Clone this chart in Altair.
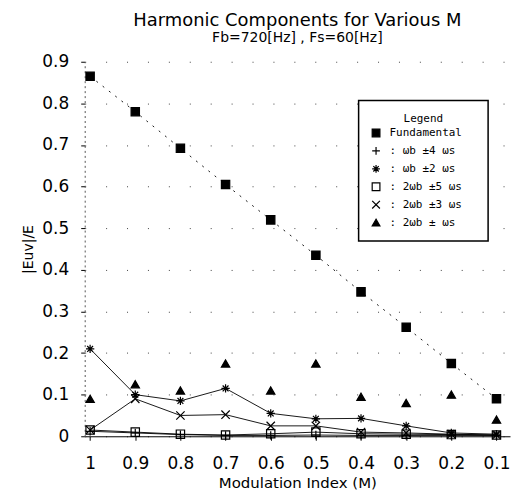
import altair as alt
import pandas as pd

m_values = [1.0, 0.9, 0.8, 0.7, 0.6, 0.5, 0.4, 0.3, 0.2, 0.1]

series_names = ["Fundamental", ":  ωb  ±4  ωs", ":  ωb  ±2  ωs", ": 2ωb  ±5  ωs", ": 2ωb  ±3  ωs", ": 2ωb  ±   ωs"]

fundamental = [0.865, 0.78, 0.692, 0.605, 0.52, 0.435, 0.347, 0.262, 0.175, 0.09]
wb_4ws = [0.012, 0.008, 0.004, 0.002, 0.002, 0.003, 0.002, 0.002, 0.002, 0.002]
wb_2ws = [0.21, 0.10, 0.085, 0.115, 0.055, 0.042, 0.043, 0.025, 0.008, 0.005]
w2b_5ws = [0.015, 0.010, 0.005, 0.003, 0.006, 0.010, 0.006, 0.005, 0.004, 0.003]
w2b_3ws = [0.015, 0.090, 0.050, 0.052, 0.025, 0.025, 0.010, 0.008, 0.005, 0.003]
w2b_ws = [0.090, 0.125, 0.110, 0.175, 0.110, 0.175, 0.095, 0.080, 0.100, 0.040]

all_series = [fundamental, wb_4ws, wb_2ws, w2b_5ws, w2b_3ws, w2b_ws]
line_style = ["dotted", "solid", "solid", "solid", "solid", "none"]

rows = []
for name, vals, ls in zip(series_names, all_series, line_style):
    for m, v in zip(m_values, vals):
        rows.append({"M": m, "value": v, "series": name, "ls": ls})
df = pd.DataFrame(rows)

shape_range = [
    "square",
    "M-1,0L1,0M0,-1L0,1",
    "M-1,0L1,0M0,-1L0,1M-0.7,-0.7L0.7,0.7M-0.7,0.7L0.7,-0.7",
    "square",
    "M-1,-1L1,1M-1,1L1,-1",
    "triangle-up",
]
fill_range = ["black", "transparent", "transparent", "transparent", "transparent", "black"]
stroke_range = ["black", "black", "black", "black", "black", "black"]

xscale = alt.Scale(domain=[1.012, 0.07], nice=False, zero=False)
yscale = alt.Scale(domain=[0, 0.9], nice=False)

xenc = alt.X("M:Q", scale=xscale, title="Modulation Index (M)",
             axis=alt.Axis(values=m_values, format="~g", grid=False, tickSize=4,
                           labelFontSize=17, titleFontSize=15, labelPadding=15,
                           titlePadding=4, domainColor="black", tickColor="black",
                           labelColor="black", titleColor="black",
                           labelFont="DejaVu Sans", titleFont="DejaVu Sans",
                           titleFontWeight="normal"))
yenc = alt.Y("value:Q", scale=yscale, title="|Euv|/E",
             axis=alt.Axis(values=[0, 0.1, 0.2, 0.3, 0.4, 0.5, 0.6, 0.7, 0.8, 0.9],
                           format="~g", grid=True, gridDash=[1, 20], gridColor="#444",
                           tickSize=4, labelFontSize=17, titleFontSize=14,
                           labelPadding=12, titlePadding=6, domainDash=[2, 3],
                           domainColor="#555", tickColor="black", labelColor="black",
                           titleColor="black", labelFont="DejaVu Sans",
                           titleFont="DejaVu Sans", titleFontWeight="normal"))

dotted_line = alt.Chart(df).transform_filter("datum.ls == 'dotted'").mark_line(
    color="black", strokeWidth=0.9, strokeDash=[2, 6]
).encode(x=xenc, y=yenc, detail="series:N")

solid_lines = alt.Chart(df).transform_filter("datum.ls == 'solid'").mark_line(
    color="black", strokeWidth=0.9
).encode(x=xenc, y=yenc, detail="series:N")

leg = alt.Legend(title="Legend", orient="none", legendX=275, legendY=39,
                 symbolStrokeWidth=1.2)

points = alt.Chart(df).mark_point(
    filled=False, strokeWidth=1.2, size=70, opacity=1
).encode(
    x=xenc, y=yenc,
    shape=alt.Shape("series:N", scale=alt.Scale(domain=series_names, range=shape_range), legend=leg),
    fill=alt.Fill("series:N", scale=alt.Scale(domain=series_names, range=fill_range), legend=leg),
    stroke=alt.Stroke("series:N", scale=alt.Scale(domain=series_names, range=stroke_range), legend=leg),
)

chart = alt.layer(dotted_line, solid_lines, points).properties(
    width=427, height=376,
    padding={"left": 13, "top": 3, "right": 5, "bottom": 5},
    title=alt.TitleParams(
        "Harmonic Components for Various M",
        subtitle="Fb=720[Hz] , Fs=60[Hz]",
        fontSize=18, subtitleFontSize=14, font="DejaVu Sans", subtitleFont="DejaVu Sans",
        fontWeight="normal", color="black", subtitleColor="black",
        anchor="middle", offset=8, subtitlePadding=1,
    ),
).configure(
    background="white",
    view=alt.ViewConfig(stroke=None),
    legend=alt.LegendConfig(
        strokeColor="black", strokeWidth=1.5, padding=12, fillColor="white",
        titleAnchor="middle", titleFontSize=11, titleFont="DejaVu Sans Mono",
        titleFontWeight="normal", titleColor="black", titlePadding=4,
        labelFont="DejaVu Sans Mono", labelFontSize=11, labelColor="black",
        labelOffset=8, symbolSize=60, rowPadding=5, labelLimit=220,
    ),
)

chart.save("out.html", embed_options={"renderer": "svg", "actions": False})
